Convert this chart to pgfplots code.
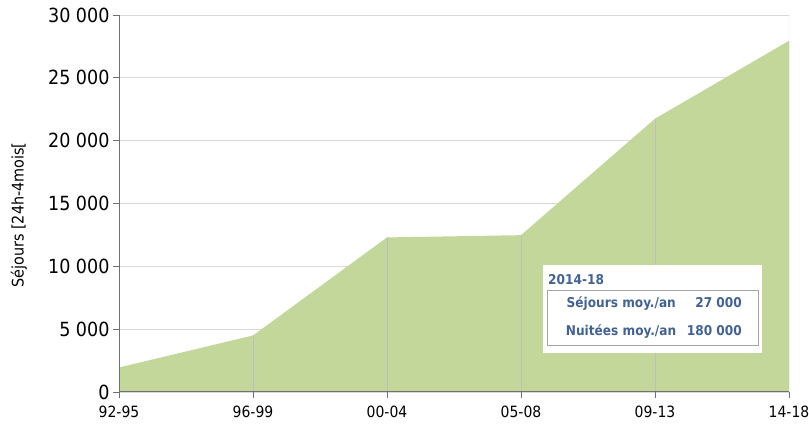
\documentclass[border=0pt]{standalone}
\usepackage{fontspec}
\setmainfont{DejaVu Sans Condensed}
\usepackage{pgfplots}
\pgfplotsset{compat=1.18}
\definecolor{areafill}{RGB}{196,215,155}
\definecolor{gridc}{RGB}{217,217,217}
\definecolor{axc}{RGB}{112,112,112}
\definecolor{dropc}{RGB}{190,190,190}
\definecolor{boxtxt}{RGB}{66,98,150}
\definecolor{boxline}{RGB}{165,165,165}
\pgfplotstableread{
x y
0 1950
1 4500
2 12300
3 12480
4 21750
5 27950
}\datatable
\begin{document}
\begin{tikzpicture}
\useasboundingbox (0bp,0bp) rectangle (809bp,425bp);
\begin{axis}[
 at={(119bp,33bp)}, anchor=south west,
 scale only axis, width=670bp, height=377bp,
 xmin=0, xmax=5, ymin=0, ymax=30000,
 axis lines=left, axis line style={draw=none},
 xtick={0,...,5},
 xticklabels={92-95,96-99,00-04,05-08,09-13,14-18},
 ytick={0,5000,...,30000},
 scaled y ticks=false,
 /pgf/number format/1000 sep={\ },
 /pgf/number format/assume math mode=true,
 tick align=outside, major tick length=6bp,
 tick style={axc, line width=0.8bp},
 ymajorgrids, grid style={gridc, line width=0.8bp},
 yticklabel style={font=\fontsize{19.5bp}{22bp}\selectfont},
 xticklabel style={font=\fontsize{15.5bp}{18bp}\selectfont, yshift=-4bp},
]
\addplot[fill=areafill, draw=none] table {\datatable} \closedcycle;
\addplot[ycomb, dropc, line width=0.8bp, mark=none] table {\datatable};
\draw[gridc, line width=0.8bp] (rel axis cs:1,0) -- (rel axis cs:1,1);
\draw[axc, line width=1bp] (rel axis cs:0,1) -- (rel axis cs:0,0) -- (rel axis cs:1,0);
\end{axis}
\node[rotate=90, font=\fontsize{16bp}{19bp}\selectfont] at (19bp,210bp) {Séjours [24h-4mois[};
\fill[white] (543bp,72bp) rectangle (762bp,160bp);
\draw[boxline, line width=0.8bp] (547.7bp,80bp) rectangle (758.3bp,135bp);
\node[anchor=base west, inner sep=0pt, text=boxtxt, font=\bfseries\fontsize{13.5bp}{16bp}\selectfont] at (548bp,140.3bp) {2014-18};
\node[anchor=base west, inner sep=0pt, text=boxtxt, font=\bfseries\fontsize{13.5bp}{16bp}\selectfont] at (566.5bp,117bp) {Séjours moy./an};
\node[anchor=base west, inner sep=0pt, text=boxtxt, font=\bfseries\fontsize{13.5bp}{16bp}\selectfont] at (565.7bp,89bp) {Nuitées moy./an};
\node[anchor=base east, inner sep=0pt, text=boxtxt, font=\bfseries\fontsize{13.5bp}{16bp}\selectfont] at (742bp,117bp) {27 000};
\node[anchor=base east, inner sep=0pt, text=boxtxt, font=\bfseries\fontsize{13.5bp}{16bp}\selectfont] at (742bp,89bp) {180 000};
\end{tikzpicture}
\end{document}
